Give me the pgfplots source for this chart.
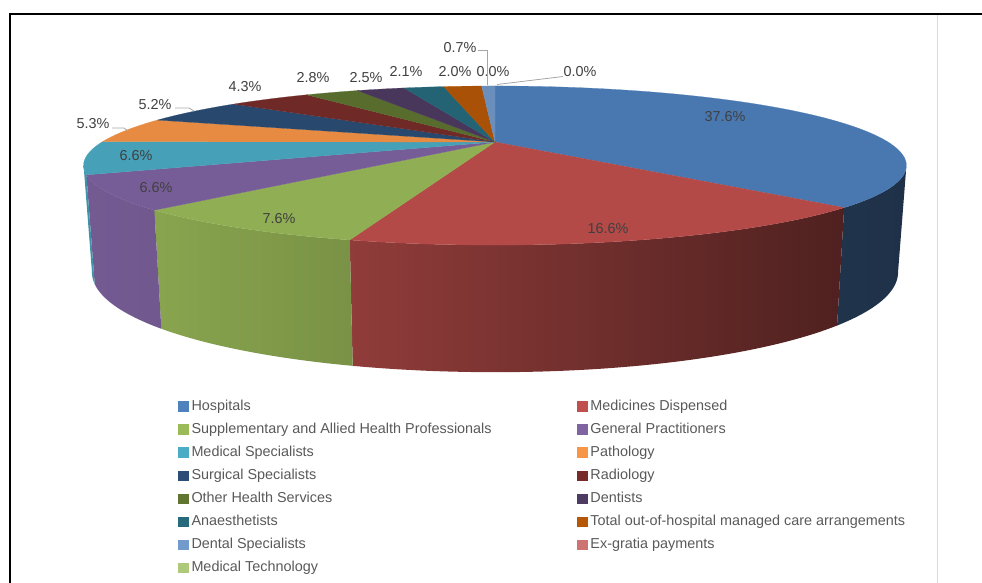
\documentclass[border=0pt]{standalone}
\usepackage{pgfplots}
\pgfplotsset{compat=1.18}
\usepackage{pgfplotstable}
\usepackage{fontspec}
\setmainfont{Liberation Sans}

\definecolor{cHosp}{HTML}{4F81BD}
\definecolor{cMed}{HTML}{C0504D}
\definecolor{cSupp}{HTML}{9BBB59}
\definecolor{cGP}{HTML}{8064A2}
\definecolor{cMS}{HTML}{4BACC6}
\definecolor{cPath}{HTML}{F79646}
\definecolor{cSurg}{HTML}{2C4D75}
\definecolor{cRad}{HTML}{772C2A}
\definecolor{cOther}{HTML}{5F7530}
\definecolor{cDent}{HTML}{4D3B62}
\definecolor{cAna}{HTML}{276A7C}
\definecolor{cTot}{HTML}{B65708}
\definecolor{cDS}{HTML}{729ACA}
\definecolor{cEx}{HTML}{CD7371}
\definecolor{cMT}{HTML}{AFC97A}
\definecolor{lblgray}{HTML}{404040}
\definecolor{leggray}{HTML}{595959}
\definecolor{leadgray}{HTML}{A6A6A6}
\definecolor{framegray}{HTML}{D9D9D9}

% share (%), colour, side shade left/right (% colour in black mix), label position (px)
\pgfplotstableread[col sep=comma]{
value,col,sl,sr,lx,ly
37.6,cHosp,40,38,725,117
16.6,cMed,75,41,608,229
7.6,cSupp,88,78,279,219
6.6,cGP,90,88,156,188
6.6,cMS,85,85,136,156
5.3,cPath,85,85,93,124
5.2,cSurg,85,85,155,105
4.3,cRad,85,85,245,87
2.8,cOther,85,85,313,78
2.5,cDent,85,85,366,78
2.1,cAna,85,85,406,72
2.0,cTot,85,85,455,72
0.7,cDS,85,85,460,48
0.0,cEx,85,85,493,72
0.0,cMT,85,85,580,72
}\piedata

\pgfplotstablegetrowsof{\piedata}
\pgfmathtruncatemacro\lastrow{\pgfplotsretval-1}
\def\total{0}
\pgfplotsforeachungrouped \i in {0,...,\lastrow}{%
  \pgfplotstablegetelem{\i}{value}\of\piedata
  \pgfmathsetmacro\total{\total+\pgfplotsretval}}
\def\cum{0}
\pgfplotsforeachungrouped \i in {0,...,\lastrow}{%
  \pgfplotstablegetelem{\i}{value}\of\piedata
  \let\val\pgfplotsretval
  \pgfmathsetmacro\sA{90-\cum/\total*360}%
  \pgfmathsetmacro\cum{\cum+\val}%
  \pgfmathsetmacro\eA{90-\cum/\total*360}%
  \expandafter\xdef\csname angS\i\endcsname{\sA}%
  \expandafter\xdef\csname angE\i\endcsname{\eA}%
  \expandafter\xdef\csname val\i\endcsname{\val}%
}

\tikzset{lbl/.style={font=\fontsize{14.4}{17}\selectfont, text=lblgray, inner sep=0pt},
         leader/.style={draw=leadgray, line width=0.8pt}}

\begin{document}
\begin{tikzpicture}
\begin{axis}[
  scale only axis, width=982pt, height=583pt,
  xmin=0, xmax=982, ymin=0, ymax=583, y dir=reverse,
  hide axis, clip=false,
  declare function={
    px(\a,\f)=495+(393-8*\f)*cos(\a)/(1+0.296*sin(\a));
    py(\a,\f)=142-72.6*sin(\a)/(1+0.296*sin(\a))+\f*100/(1+0.213*sin(\a));
    sang(\t,\p,\q)=(\t<=1)?(\p+(\q-\p)*\t):((\t<=2)?\q:(\q-(\q-\p)*(\t-2)));
    sfr(\t)=(\t<=1)?0:((\t<=2)?(\t-1):1);
  },
  legend image code/.code={\fill[#1, draw=none] (-0.5pt,-5.2pt) rectangle (10.3pt,5.2pt);},
  legend columns=2,
  legend cell align=left,
  legend style={at={(axis cs:178,397.5)}, anchor=north west, draw=none, fill=none,
    font=\fontsize{14.4}{17}\selectfont, text=leggray, inner sep=0pt, row sep=5.6pt,
    nodes={inner sep=1.5pt, text height=11pt, text depth=3.5pt},
    /tikz/every odd column/.append style={column sep=1pt},
    /tikz/every even column/.append style={column sep=84pt}},
]
% side faces
\pgfplotsforeachungrouped \i in {0,...,\lastrow}{%
  \pgfmathsetmacro\sa{max(\csname angE\i\endcsname,-162.8)}%
  \pgfmathsetmacro\sb{min(\csname angS\i\endcsname,-17.2)}%
  \pgfmathtruncatemacro\vis{(\sb-\sa>0.05)?1:0}%
  \ifnum\vis=1
    \pgfplotstablegetelem{\i}{col}\of\piedata \let\cc\pgfplotsretval
    \pgfplotstablegetelem{\i}{sl}\of\piedata \let\csl\pgfplotsretval
    \pgfplotstablegetelem{\i}{sr}\of\piedata \let\csr\pgfplotsretval
    \edef\tmp{\noexpand\addplot[forget plot, draw=none, left color=\cc!\csl!black, right color=\cc!\csr!black, domain=0:3, samples=151] ({px(sang(x,\sa,\sb),sfr(x))},{py(sang(x,\sa,\sb),sfr(x))}) -- cycle;}%
    \tmp
  \fi
}
% top faces
\pgfplotsforeachungrouped \i in {0,...,\lastrow}{%
  \pgfmathtruncatemacro\pos{(\csname val\i\endcsname>0)?1:0}%
  \ifnum\pos=1
    \pgfplotstablegetelem{\i}{col}\of\piedata \let\cc\pgfplotsretval
    \edef\tmp{\noexpand\addplot[forget plot, fill=\cc!93!black, draw=\cc!93!black, line width=0.2pt, domain=\csname angE\i\endcsname:\csname angS\i\endcsname, samples=80] ({px(x,0)},{py(x,0)}) -- (axis cs:495,142) -- cycle;}%
    \tmp
  \fi
}
% labels
\pgfplotsforeachungrouped \i in {0,...,\lastrow}{%
  \pgfplotstablegetelem{\i}{lx}\of\piedata \let\lx\pgfplotsretval
  \pgfplotstablegetelem{\i}{ly}\of\piedata \let\ly\pgfplotsretval
  \edef\tmp{\noexpand\node[lbl] at (axis cs:\lx,\ly) {\noexpand\pgfmathprintnumber[fixed,fixed zerofill,precision=1,assume math mode=true]{\csname val\i\endcsname}\noexpand\%};}%
  \tmp
}
% leader lines
\draw[leader] (axis cs:112,128) -- (axis cs:124,128) -- (axis cs:128,131);
\draw[leader] (axis cs:175,108) -- (axis cs:189,108) -- (axis cs:194,111);
\draw[leader] (axis cs:478,50.5) -- (axis cs:487,50.5) -- (axis cs:487,85);
\draw[leader] (axis cs:563,76.5) -- (axis cs:497,84.5);
% frame
\draw[black, line width=2pt] (axis cs:982,14) -- (axis cs:10,14) -- (axis cs:10,583);
\draw[framegray, line width=1.5pt] (axis cs:937.5,15) -- (axis cs:937.5,583);
% legend
\addlegendimage{fill=cHosp}\addlegendentry{Hospitals}
\addlegendimage{fill=cMed}\addlegendentry{Medicines Dispensed}
\addlegendimage{fill=cSupp}\addlegendentry{Supplementary and Allied Health Professionals}
\addlegendimage{fill=cGP}\addlegendentry{General Practitioners}
\addlegendimage{fill=cMS}\addlegendentry{Medical Specialists}
\addlegendimage{fill=cPath}\addlegendentry{Pathology}
\addlegendimage{fill=cSurg}\addlegendentry{Surgical Specialists}
\addlegendimage{fill=cRad}\addlegendentry{Radiology}
\addlegendimage{fill=cOther}\addlegendentry{Other Health Services}
\addlegendimage{fill=cDent}\addlegendentry{Dentists}
\addlegendimage{fill=cAna}\addlegendentry{Anaesthetists}
\addlegendimage{fill=cTot}\addlegendentry{Total out-of-hospital managed care arrangements}
\addlegendimage{fill=cDS}\addlegendentry{Dental Specialists}
\addlegendimage{fill=cEx}\addlegendentry{Ex-gratia payments}
\addlegendimage{fill=cMT}\addlegendentry{Medical Technology}
\end{axis}
\pgfresetboundingbox
\path (current axis.south west) rectangle (current axis.north east);
\end{tikzpicture}
\end{document}
